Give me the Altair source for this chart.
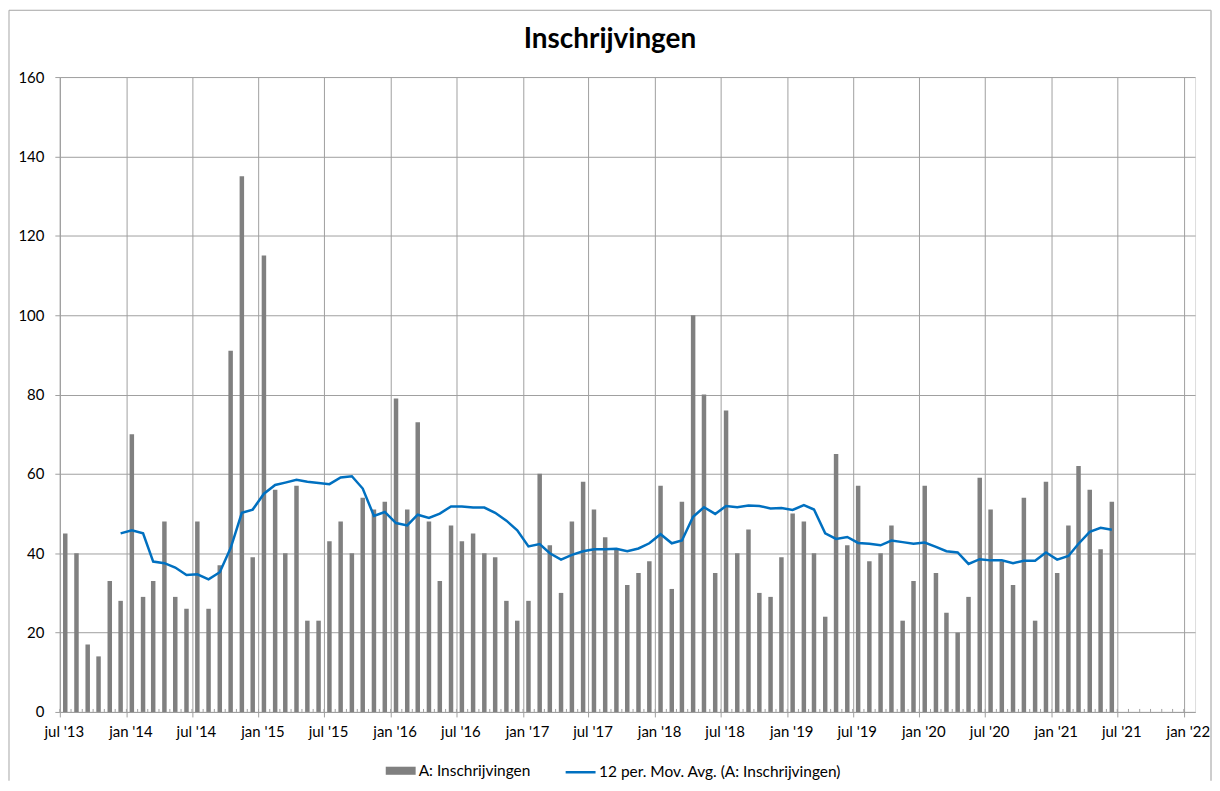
import altair as alt
import pandas as pd

# Monthly registrations, jul 2013 .. jun 2021
inschrijvingen = [
    45, 40, 17, 14, 33, 28,                                   # 2013 jul-dec
    70, 29, 33, 48, 29, 26, 48, 26, 37, 91, 135, 39,          # 2014
    115, 56, 40, 57, 23, 23, 43, 48, 40, 54, 51, 53,          # 2015
    79, 51, 73, 48, 33, 47, 43, 45, 40, 39, 28, 23,           # 2016
    28, 60, 42, 30, 48, 58, 51, 44, 41, 32, 35, 38,           # 2017
    57, 31, 53, 100, 80, 35, 76, 40, 46, 30, 29, 39,          # 2018
    50, 48, 40, 24, 65, 42, 57, 38, 40, 47, 23, 33,           # 2019
    57, 35, 25, 20, 29, 59, 51, 38, 32, 54, 23, 58,           # 2020
    35, 47, 62, 56, 41, 53,                                   # 2021 jan-jun
]

# 12 per. moving average, dec 2013 .. jun 2021
mov_avg = [
    45.0,                                                                  # 2013 dec
    45.8, 45.0, 37.9, 37.5, 36.4, 34.5, 34.7, 33.4, 35.2, 41.3, 50.2, 51.0,  # 2014
    55.0, 57.2, 57.8, 58.5, 58.0, 57.7, 57.4, 59.1, 59.4, 56.3, 49.4, 50.4,  # 2015
    47.6, 47.0, 49.7, 48.9, 50.0, 51.8, 51.8, 51.5, 51.5, 50.2, 48.2, 45.8,  # 2016
    41.7, 42.3, 40.0, 38.4, 39.6, 40.5, 41.0, 41.0, 41.1, 40.5, 41.2, 42.5,  # 2017
    44.8, 42.5, 43.2, 49.2, 51.6, 49.9, 51.9, 51.6, 52.0, 51.9, 51.3, 51.4,  # 2018
    50.9, 52.1, 51.0, 45.0, 43.6, 44.1, 42.6, 42.4, 42.0, 43.2, 42.8, 42.4,  # 2019
    42.7, 41.6, 40.5, 40.2, 37.3, 38.5, 38.2, 38.2, 37.5, 38.1, 38.1, 40.2,  # 2020
    38.4, 39.3, 42.4, 45.4, 46.4, 45.9,                                    # 2021
]

bar_label = "A: Inschrijvingen"
line_label = "12 per. Mov. Avg. (A: Inschrijvingen)"
title_text = "Inschrijvingen"

bar_months = pd.date_range("2013-07-01", periods=len(inschrijvingen), freq="MS")
avg_months = pd.date_range("2013-12-01", periods=len(mov_avg), freq="MS")
tick_months = pd.date_range("2013-07-01", "2022-01-01", freq="MS")

fmt = "%Y-%m-%dT00:00:00"
df_bar = pd.DataFrame({
    "date": [(d + pd.Timedelta(days=15)).strftime(fmt) for d in bar_months],
    "value": inschrijvingen,
    "s": bar_label,
})
df_avg = pd.DataFrame({
    "date": [(d + pd.Timedelta(days=15)).strftime(fmt) for d in avg_months],
    "value": mov_avg,
    "s2": line_label,
})
df_ticks = pd.DataFrame({"date": [d.strftime(fmt) for d in tick_months]})

W, H = 1139, 637
GRID = "#a0a0a0"
FONT = "Lato"
AXIS_FS = 15
LEG_FS = 15.5

x_scale = alt.Scale(domain=["2013-07-01T00:00:00", "2022-02-01T00:00:00"],
                    padding=0, nice=False)
x_vals = [alt.DateTime(year=y, month=m, date=1)
          for y in range(2013, 2022) for m in (1, 7)
          if not (y == 2013 and m == 1)] + [alt.DateTime(year=2022, month=1, date=1)]

x_axis = alt.Axis(
    values=x_vals, labelExpr="lower(timeFormat(datum.value, \"%b '%y\"))",
    title=None, grid=True, gridColor=GRID, tickColor=GRID, domainColor=GRID,
    tickSize=5, labelPadding=8, labelOffset=4, labelFont=FONT, labelFontSize=AXIS_FS,
    labelColor="#000000", labelFlush=False, labelOverlap=False,
)
y_axis = alt.Axis(
    values=list(range(0, 161, 20)), title=None, grid=True, gridColor=GRID,
    tickColor=GRID, domainColor=GRID, tickSize=5, labelPadding=11,
    labelFont=FONT, labelFontSize=AXIS_FS, labelColor="#000000",
)

bars = alt.Chart(df_bar).mark_bar(size=4.5).encode(
    x=alt.X("date:T", scale=x_scale, axis=x_axis),
    y=alt.Y("value:Q", scale=alt.Scale(domain=[0, 160]), axis=y_axis),
    color=alt.Color("s:N", scale=alt.Scale(domain=[bar_label], range=["#808080"]),
                    legend=alt.Legend(orient="none", legendX=327, legendY=681, title=None,
                                      symbolType="M-1,-0.27H1V0.27H-1Z", symbolSize=900,
                                      symbolStrokeWidth=0, labelFont=FONT, labelFontSize=LEG_FS,
                                      labelColor="#000000", labelOffset=3, labelLimit=0)),
)

line = alt.Chart(df_avg).mark_line(strokeWidth=2.5).encode(
    x=alt.X("date:T", scale=x_scale),
    y=alt.Y("value:Q"),
    stroke=alt.Stroke("s2:N", scale=alt.Scale(domain=[line_label], range=["#0070C0"]),
                      legend=alt.Legend(orient="none", legendX=506, legendY=681, title=None,
                                        symbolType="stroke", symbolSize=900,
                                        symbolStrokeWidth=2.5, labelFont=FONT,
                                        labelFontSize=LEG_FS, labelColor="#000000",
                                        labelOffset=2, labelLimit=0)),
)

minor = alt.Chart(df_ticks).mark_rule(color=GRID, strokeWidth=1).encode(
    x=alt.X("date:T", scale=x_scale),
    y=alt.value(H),
    y2=alt.value(H - 3),
)

one = pd.DataFrame({"k": [0]})
title_mark = alt.Chart(one).mark_text(
    font=FONT, fontSize=28, fontWeight="bold", color="#000000",
    align="center", baseline="alphabetic",
).encode(x=alt.value(552), y=alt.value(-29), text=alt.value(title_text))

left_b = alt.Chart(one).mark_rule(color="#a6a6a6").encode(
    x=alt.value(-51), y=alt.value(-67), y2=alt.value(706))
top_b = alt.Chart(one).mark_rule(color="#a6a6a6").encode(
    x=alt.value(-51), x2=alt.value(1155), y=alt.value(-67))
right_b = alt.Chart(one).mark_rule(color="#bdbdbd", strokeWidth=1.5).encode(
    x=alt.value(1155), y=alt.value(-67), y2=alt.value(706))

chart = alt.layer(minor, bars, line, title_mark, left_b, top_b, right_b).resolve_scale(
    color="independent", stroke="independent"
).properties(
    width=W, height=H, padding=0,
).configure_view(stroke=None).configure(background="white")

chart.save("out.html", embed_options={"renderer": "svg", "actions": False})
